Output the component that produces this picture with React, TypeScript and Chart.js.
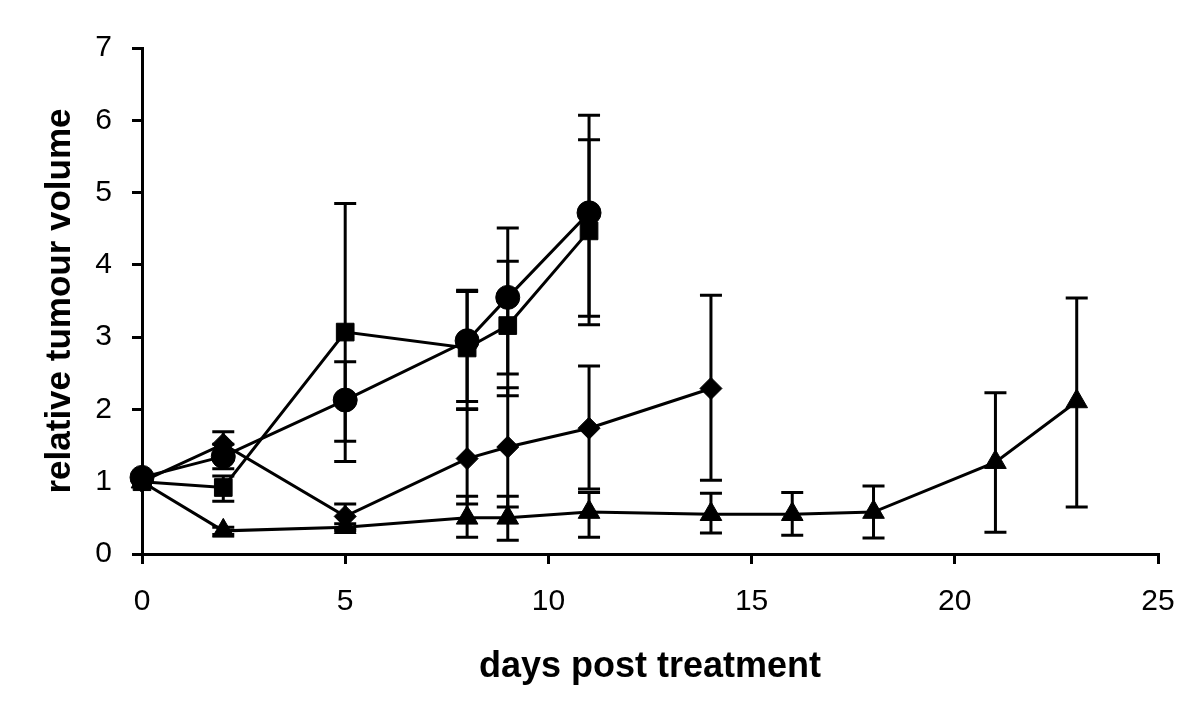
import React, { useEffect, useRef } from "react";
import { Chart, registerables } from "chart.js";

Chart.register(...registerables);

// ---- data ----
const circleDays = [0, 2, 5, 8, 9, 11];
const circleValues = [1.06, 1.35, 2.13, 2.95, 3.55, 4.72];
const circleErrUp = [0, 0.17, 0.53, 0.7, 0.96, 1.35];
const circleErrDown = [0, 0.17, 0.57, 0.84, 1.06, 1.43];

const squareDays = [0, 2, 5, 8, 9, 11];
const squareValues = [1.0, 0.92, 3.07, 2.85, 3.16, 4.47];
const squareErrUp = [0, 0.16, 1.78, 0.78, 0.89, 1.26];
const squareErrDown = [0, 0.19, 1.79, 0.84, 0.97, 1.3];

const diamondDays = [0, 2, 5, 8, 9, 11, 14];
const diamondValues = [1.0, 1.52, 0.52, 1.32, 1.48, 1.74, 2.29];
const diamondErrUp = [0, 0.17, 0.17, 0.68, 0.82, 0.86, 1.29];
const diamondErrDown = [0, 0.17, 0.17, 0.63, 0.83, 0.84, 1.27];

const triangleDays = [0, 2, 5, 8, 9, 11, 14, 16, 18, 21, 23];
const triangleValues = [1.0, 0.32, 0.37, 0.5, 0.5, 0.58, 0.55, 0.55, 0.58, 1.27, 2.11];
const triangleErrUp = [0, 0.05, 0.05, 0.3, 0.3, 0.27, 0.29, 0.3, 0.36, 0.96, 1.43];
const triangleErrDown = [0, 0.05, 0.05, 0.27, 0.31, 0.35, 0.26, 0.29, 0.36, 0.97, 1.46];

const xTicks = [0, 5, 10, 15, 20, 25];
const yTicks = [0, 1, 2, 3, 4, 5, 6, 7];

const xTitle = "days post treatment";
const yTitle = "relative tumour volume";

const FONT = '"Liberation Sans", Arial, Helvetica, sans-serif';

const toPoints = (xs: number[], ys: number[]) => xs.map((x, i) => ({ x, y: ys[i] }));

const errors = [
  { up: circleErrUp, down: circleErrDown },
  { up: squareErrUp, down: squareErrDown },
  { up: diamondErrUp, down: diamondErrDown },
  { up: triangleErrUp, down: triangleErrDown },
];

const errorBarPlugin = {
  id: "errorBars",
  afterDatasetsDraw(chart: any) {
    const { ctx, scales } = chart;
    const xs = scales.x;
    const ys = scales.y;
    ctx.save();
    ctx.strokeStyle = "#000";
    ctx.lineWidth = 3;
    ctx.lineCap = "butt";
    const capHalf = 11;
    chart.data.datasets.forEach((ds: any, i: number) => {
      const err = errors[i];
      ds.data.forEach((p: any, j: number) => {
        const u = err.up[j];
        const d = err.down[j];
        if (!u && !d) return;
        const px = xs.getPixelForValue(p.x);
        const top = ys.getPixelForValue(p.y + u);
        const bot = ys.getPixelForValue(p.y - d);
        ctx.beginPath();
        ctx.moveTo(px, top);
        ctx.lineTo(px, bot);
        ctx.moveTo(px - capHalf, top);
        ctx.lineTo(px + capHalf, top);
        ctx.moveTo(px - capHalf, bot);
        ctx.lineTo(px + capHalf, bot);
        ctx.stroke();
      });
    });
    ctx.restore();
  },
};

export default function App() {
  const canvasRef = useRef<HTMLCanvasElement | null>(null);

  useEffect(() => {
    if (!canvasRef.current) return;
    const mk = (label: string, xs: number[], ys: number[], style: string, r: number) => ({
      label,
      data: toPoints(xs, ys),
      borderColor: "#000",
      backgroundColor: "#000",
      borderWidth: 3,
      pointStyle: style,
      pointRadius: r,
      pointHoverRadius: r,
      pointBackgroundColor: "#000",
      pointBorderColor: "#000",
      pointBorderWidth: 1,
      tension: 0,
      fill: false,
      clip: false,
    });
    const chart = new Chart(canvasRef.current, {
      type: "line",
      data: {
        datasets: [
          mk("circle", circleDays, circleValues, "circle", 12),
          mk("square", squareDays, squareValues, "rect", 12.5),
          mk("diamond", diamondDays, diamondValues, "rectRot", 11),
          mk("triangle", triangleDays, triangleValues, "triangle", 12.5),
        ],
      },
      options: {
        responsive: false,
        animation: false,
        layout: { padding: { top: 48, right: 42, bottom: 0, left: 0 } },
        plugins: {
          legend: { display: false },
          tooltip: { enabled: false },
        },
        scales: {
          x: {
            type: "linear",
            min: xTicks[0],
            max: xTicks[xTicks.length - 1],
            afterBuildTicks: (scale: any) => {
              scale.ticks = xTicks.map((v) => ({ value: v }));
            },
            afterFit: (scale: any) => {
              scale.height = 157;
            },
            ticks: {
              color: "#000",
              font: { family: FONT, size: 30 },
              padding: 20,
              maxRotation: 0,
            },
            grid: {
              display: true,
              drawOnChartArea: false,
              drawTicks: true,
              tickLength: 10,
              tickWidth: 3,
              color: "#000",
              lineWidth: 3,
            },
            border: { display: true, color: "#000", width: 3 },
            title: {
              display: true,
              text: xTitle,
              color: "#000",
              font: { family: FONT, size: 36, weight: "bold" },
              padding: { top: 0, bottom: 22 },
            },
          },
          y: {
            type: "linear",
            min: yTicks[0],
            max: yTicks[yTicks.length - 1],
            afterBuildTicks: (scale: any) => {
              scale.ticks = yTicks.map((v) => ({ value: v }));
            },
            afterFit: (scale: any) => {
              scale.width = 142;
            },
            ticks: {
              color: "#000",
              font: { family: FONT, size: 30 },
              padding: 20,
            },
            grid: {
              display: true,
              drawOnChartArea: false,
              drawTicks: true,
              tickLength: 10,
              tickWidth: 3,
              color: "#000",
              lineWidth: 3,
            },
            border: { display: true, color: "#000", width: 3 },
            title: {
              display: true,
              text: yTitle,
              color: "#000",
              font: { family: FONT, size: 35, weight: "bold" },
              padding: { top: 39, bottom: 0 },
            },
          },
        },
      } as any,
      plugins: [errorBarPlugin],
    });
    return () => chart.destroy();
  }, []);

  return (
    <div style={{ position: "absolute", left: 0, top: 0, width: 1200, height: 711, background: "#fff" }}>
      <canvas ref={canvasRef} width={1200} height={711} style={{ display: "block" }} />
    </div>
  );
}
